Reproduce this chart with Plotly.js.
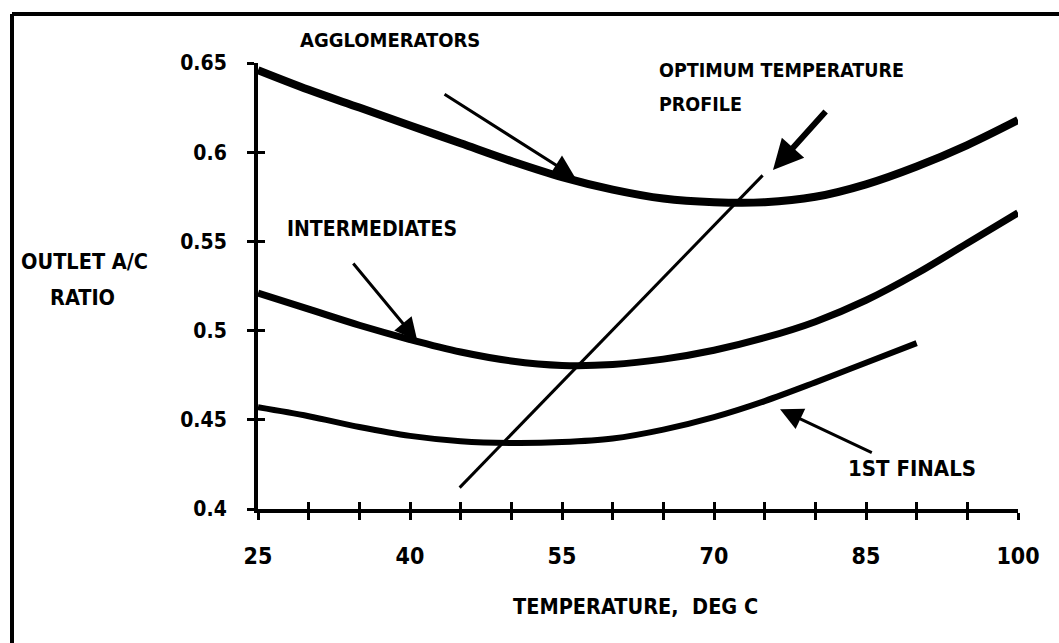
<!DOCTYPE html>
<html>
<head>
<meta charset="utf-8">
<script src="https://cdn.plot.ly/plotly-3.0.1.min.js"></script>
<style>
  html, body { margin: 0; padding: 0; background: #fff; }
  #chart { width: 1059px; height: 643px; }
</style>
</head>
<body>
<div id="chart"></div>
<script>
// ---- data ----
const temps = [25, 30, 35, 40, 45, 50, 55, 60, 65, 70, 75, 80, 85, 90, 95, 100];
const agglomerators = [0.646, 0.635, 0.625, 0.615, 0.605, 0.595, 0.586, 0.579, 0.574, 0.572, 0.572, 0.575, 0.582, 0.592, 0.604, 0.618];
const intermediates = [0.521, 0.512, 0.503, 0.495, 0.488, 0.483, 0.4805, 0.481, 0.484, 0.489, 0.496, 0.505, 0.517, 0.532, 0.549, 0.566];
const finalsTemps = [25, 30, 35, 40, 45, 50, 55, 60, 65, 70, 75, 80, 85, 90];
const firstFinals = [0.457, 0.452, 0.446, 0.441, 0.438, 0.437, 0.4375, 0.4395, 0.4445, 0.4515, 0.4605, 0.471, 0.482, 0.493];
const optimumTemps = [44.9, 74.8];
const optimumRatio = [0.412, 0.587];

const xTickVals = [25, 30, 35, 40, 45, 50, 55, 60, 65, 70, 75, 80, 85, 90, 95, 100];
const xTickText = ['25', '', '', '40', '', '', '55', '', '', '70', '', '', '85', '', '', '100'];
const yTickVals = [0.4, 0.45, 0.5, 0.55, 0.6, 0.65];
const yTickText = ['0.4', '0.45', '0.5', '0.55', '0.6', '0.65'];

// arrows: [tailX, tailY, headX, headY]
const arrowAggl = [43.26, 0.633, 56.28, 0.586];
const arrowOpt = [81.15, 0.6237, 75.82, 0.590];
const arrowInter = [34.28, 0.5385, 40.72, 0.4943];
const arrowFinals = [85.72, 0.4312, 76.52, 0.4559];

// ---- drawing ----
const FONT = '"Liberation Sans Narrow", "DejaVu Sans Condensed", "Arial Narrow", sans-serif';

// pixel geometry of plot area
const L = 258, R = 1018, T = 63, B = 509;
const px = v => (v - L) / (R - L);
const py = v => (B - v) / (B - T);

const traces = [
  { x: temps, y: agglomerators, mode: 'lines', line: { color: '#000', width: 8, shape: 'spline', smoothing: 1 }, cliponaxis: false, hoverinfo: 'skip' },
  { x: temps, y: intermediates, mode: 'lines', line: { color: '#000', width: 7, shape: 'spline', smoothing: 1 }, cliponaxis: false, hoverinfo: 'skip' },
  { x: finalsTemps, y: firstFinals, mode: 'lines', line: { color: '#000', width: 6, shape: 'spline', smoothing: 1 }, cliponaxis: false, hoverinfo: 'skip' },
  { x: optimumTemps, y: optimumRatio, xaxis: 'x2', yaxis: 'y2', mode: 'lines', line: { color: '#000', width: 3 }, cliponaxis: false, hoverinfo: 'skip' }
];

function arrow(a, width, size) {
  return {
    x: a[2], y: a[3], ax: a[0], ay: a[1],
    xref: 'x', yref: 'y', axref: 'x', ayref: 'y',
    text: '', showarrow: true, arrowhead: 2, arrowsize: size, arrowwidth: width, arrowcolor: '#000'
  };
}

function label(text, x, y, size, xanchor) {
  return {
    text: text, x: px(x), y: py(y), xref: 'paper', yref: 'paper',
    xanchor: xanchor || 'center', yanchor: 'middle', showarrow: false,
    font: { family: FONT, size: size, color: '#000', weight: 'bold' }
  };
}

const annotations = [
  arrow(arrowAggl, 3, 1.5),
  arrow(arrowOpt, 6, 1.0),
  arrow(arrowInter, 3, 1.5),
  arrow(arrowFinals, 3, 1.5),
  label('AGGLOMERATORS', 390, 40, 20),
  label('OPTIMUM TEMPERATURE', 657, 70, 19.5, 'left'),
  label('PROFILE', 657, 104, 19.5, 'left'),
  label('INTERMEDIATES', 372, 229, 21),
  label('1ST FINALS', 912, 468, 22),
  label('OUTLET A/C', 84, 261, 21.5),
  label('RATIO', 82, 297, 21.5),
  label('TEMPERATURE,  DEG C', 635, 606, 21.5)
];

const xTickFont = { family: FONT, size: 23, color: '#000', weight: 'bold' };
const yTickFont = { family: FONT, size: 21, color: '#000', weight: 'bold' };

const layout = {
  width: 1059, height: 643,
  margin: { l: L, r: 1059 - R, t: T, b: 643 - B, pad: 0 },
  paper_bgcolor: '#fff', plot_bgcolor: '#fff',
  showlegend: false,
  xaxis: {
    range: [25, 100], tickmode: 'array', tickvals: xTickVals, ticktext: xTickText,
    showgrid: false, zeroline: false, showline: true, linecolor: '#000', linewidth: 4,
    ticks: 'outside', ticklen: 7, tickwidth: 3, tickcolor: '#000',
    tickfont: xTickFont, ticklabelstandoff: 16, fixedrange: true
  },
  yaxis: {
    range: [0.4, 0.65], tickmode: 'array', tickvals: yTickVals, ticktext: yTickText,
    showgrid: false, zeroline: false, showline: true, linecolor: '#000', linewidth: 4,
    ticks: 'outside', ticklen: 7, tickwidth: 3, tickcolor: '#000',
    tickfont: yTickFont, ticklabelstandoff: 16, fixedrange: true
  },
  xaxis2: {
    range: [25, 100], overlaying: 'x', side: 'bottom', anchor: 'y2', tickmode: 'array', tickvals: xTickVals,
    showticklabels: false, showgrid: false, zeroline: false, showline: false,
    ticks: 'inside', ticklen: 7, tickwidth: 3, tickcolor: '#000', fixedrange: true
  },
  yaxis2: {
    range: [0.4, 0.65], overlaying: 'y', side: 'left', anchor: 'x2', tickmode: 'array', tickvals: yTickVals,
    showticklabels: false, showgrid: false, zeroline: false, showline: false,
    ticks: 'inside', ticklen: 7, tickwidth: 3, tickcolor: '#000', fixedrange: true
  },
  annotations: annotations,
  shapes: [
    { type: 'line', xref: 'paper', yref: 'paper', x0: px(12), x1: px(1059), y0: py(14), y1: py(14), line: { color: '#000', width: 4 } },
    { type: 'line', xref: 'paper', yref: 'paper', x0: px(12), x1: px(12), y0: py(14), y1: py(643), line: { color: '#000', width: 4 } }
  ]
};

Plotly.newPlot('chart', traces, layout, { staticPlot: true, displayModeBar: false });
</script>
</body>
</html>
